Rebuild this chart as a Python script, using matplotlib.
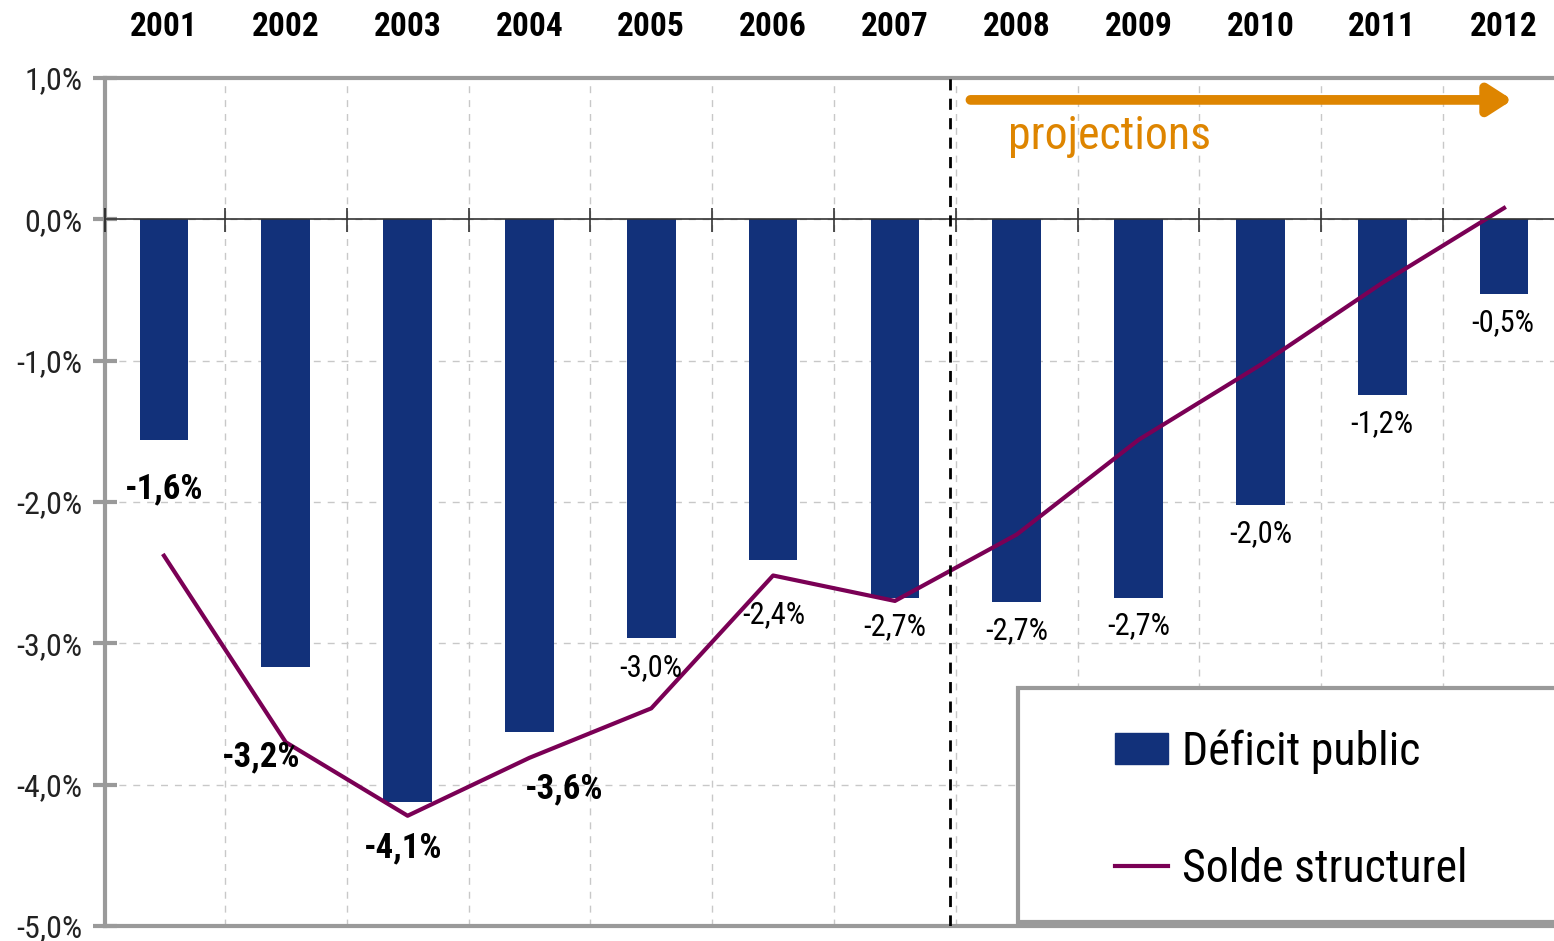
import matplotlib
matplotlib.use("Agg")
import matplotlib.pyplot as plt
import matplotlib.patches as mpatches
from matplotlib.lines import Line2D
import numpy as np

# condensed font close to Arial Narrow
plt.rcParams['font.family'] = ['Roboto Condensed', 'DejaVu Sans']

# data (% du PIB)
years = ["2001", "2002", "2003", "2004", "2005", "2006", "2007", "2008", "2009", "2010", "2011", "2012"]
deficit_public = [-1.56, -3.17, -4.12, -3.63, -2.96, -2.41, -2.68, -2.71, -2.68, -2.02, -1.24, -0.53]
solde_structurel = [-2.38, -3.70, -4.22, -3.81, -3.46, -2.52, -2.70, -2.23, -1.56, -1.03, -0.45, 0.08]
bold_labels = [True, True, True, True, False, False, False, False, False, False, False, False]
yticks = [1, 0, -1, -2, -3, -4, -5]

# label offsets in pixels from bar end
lab_dx = [0, -25, -4, 35, 0, 1, 0, 0, 0, 0, 0, -1]
lab_dy = [-49, -90, -46, -57, -30, -55, -29, -28, -28, -29, -29, -28]

BAR = "#12317A"
LINE = "#7A0055"
ORANGE = "#DE8500"
GREY = "#9A9A9A"

fig = plt.figure(figsize=(15.54, 9.41), dpi=100)
ax = fig.add_axes([105/1554, 1-926/941, 1-105/1554, (926-78)/941])

x = np.arange(len(years))
ax.bar(x, deficit_public, width=0.4, color=BAR, zorder=3, label="Déficit public")
ax.plot(x, solde_structurel, color=LINE, lw=3, zorder=4, label="Solde structurel")

ax.set_xlim(-0.484, 11.41)
ax.set_ylim(-5, 1)

# grid
bounds = x[:-1] + 0.5
for b in bounds:
    ax.axvline(b, color="#c8c8c8", lw=1, ls=(0, (5, 5)), zorder=1)
for t in yticks[1:-1]:
    ax.axhline(t, color="#c8c8c8", lw=1, ls=(0, (5, 5)), zorder=1)

# zero line with small ticks
ax.axhline(0, color="#333333", lw=1.2, zorder=5)
ax.vlines(bounds, -0.09, 0.08, color="#333333", lw=1.2, zorder=5)
ax.vlines([ax.get_xlim()[0]], -0.09, 0.08, color="#333333", lw=1.5, zorder=6, clip_on=False)

# spines
for s in ["top", "left", "bottom"]:
    ax.spines[s].set_color(GREY)
    ax.spines[s].set_linewidth(3)
ax.spines["right"].set_visible(False)

ax.set_yticks(yticks)
ax.set_yticklabels([f"{t:.1f}%".replace(".", ",") for t in yticks])
ax.tick_params(axis="y", direction="inout", length=17, width=3, color=GREY,
               labelsize=23, labelcolor="#222222", pad=8)
ax.set_xticks([])

# years on top
top = ax.secondary_xaxis("top")
top.set_xticks(x)
top.set_xticklabels(years, fontsize=24, fontweight="bold")
top.tick_params(length=0, pad=25)
top.spines["top"].set_visible(False)

# value labels
for i, v in enumerate(deficit_public):
    txt = f"{v:.1f}%".replace(".", ",")
    ax.annotate(txt, (x[i], v), xytext=(lab_dx[i], lab_dy[i]), textcoords="offset pixels",
                ha="center", va="center", fontsize=25 if bold_labels[i] else 22,
                fontweight="bold" if bold_labels[i] else "normal", zorder=6)

# projections
ax.axvline(6.45, color="black", lw=2, ls=(0, (4, 3)), zorder=5)
ax.annotate("", xy=(11.07, 0.845), xytext=(6.62, 0.845),
            arrowprops=dict(arrowstyle="-|>,head_length=1.4,head_width=0.9", lw=7,
                            color=ORANGE, shrinkA=0, shrinkB=0), zorder=6)
ax.text(6.93, 0.59, "projections", color=ORANGE, fontsize=33, ha="left", va="center")

# legend box
fig.patches.append(mpatches.Rectangle((1018/1554, 1-922/941), 0.4, (922-688)/941,
                                      transform=fig.transFigure, facecolor="white",
                                      edgecolor=GREY, lw=3, zorder=10))
handles = [mpatches.Patch(color=BAR), Line2D([], [], color=LINE, lw=3)]
leg = fig.legend(handles, ["Déficit public", "Solde structurel"], loc="upper left",
                 bbox_to_anchor=(1074/1554, 1-688/941), frameon=False, fontsize=33,
                 handlelength=1.15, handleheight=0.65, handletextpad=0.3, labelspacing=1.6)
leg.set_zorder(11)

fig.savefig("out.png", dpi=100)
